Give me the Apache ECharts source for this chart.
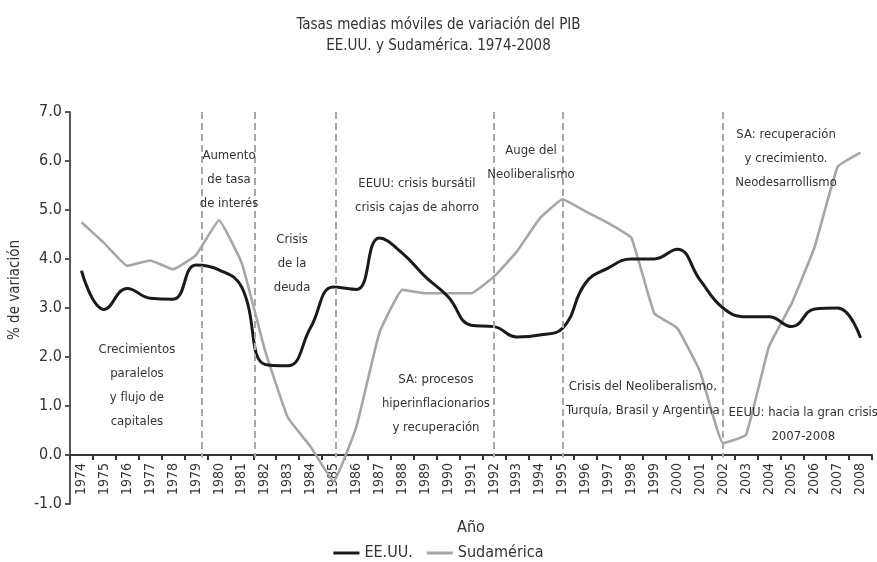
<!DOCTYPE html>
<html lang="es">
<head>
    <meta charset="UTF-8"/>
    <script src="https://cdn.jsdelivr.net/npm/echarts@6/dist/echarts.min.js"></script>
    <title>PIB EE.UU. y Sudamérica</title>
    <style>
        html, body { margin: 0; padding: 0; background: #fff; }
        #chart { width: 877px; height: 562px; }
    </style>
</head>
<body>
<div id="chart"></div>
<script type="text/javascript">
    // años (categorías)
    var years = [];
    for (var y = 1974; y <= 2008; y++) { years.push(String(y)); }

    // tasas medias móviles (% de variación)
    var eeuu = [3.76, 2.97, 3.40, 3.20, 3.18, 3.88, 3.78, 3.42, 1.85, 1.82, 2.60, 3.43,
                3.38, 4.43, 4.12, 3.64, 3.23, 2.65, 2.62, 2.41, 2.45, 2.59, 3.51, 3.82,
                4.00, 4.00, 4.20, 3.57, 3.00, 2.82, 2.82, 2.62, 2.98, 3.00, 2.39];
    var sudamerica = [4.75, 4.32, 3.86, 3.97, 3.79, 4.08, 4.79, 3.91, 2.15, 0.77, 0.17, -0.54,
                      0.58, 2.49, 3.37, 3.30, 3.30, 3.30, 3.64, 4.15, 4.83, 5.22, 4.97, 4.73,
                      4.43, 2.89, 2.59, 1.70, 0.24, 0.41, 2.21, 3.10, 4.25, 5.88, 6.17];

    // líneas de corte (posición en unidades de categoría, 0 = borde izquierdo)
    var cortes = [5.75, 8.05, 11.6, 18.5, 21.5, 28.5];

    // anotaciones: [texto, posición x (categorías), valor y]
    var notas = [
        ['Crecimientos\nparalelos\ny flujo de\ncapitales', 2.92, 1.41],
        ['Aumento\nde tasa\nde interés', 6.94, 5.61],
        ['Crisis\nde la\ndeuda', 9.69, 3.90],
        ['EEUU: crisis bursátil\ncrisis cajas de ahorro', 15.14, 5.29],
        ['Auge del\nNeoliberalismo', 20.12, 5.96],
        ['SA: recuperación\ny crecimiento.\nNeodesarrollismo', 31.25, 6.04],
        ['SA: procesos\nhiperinflacionarios\ny recuperación', 15.97, 1.04],
        ['Crisis del Neoliberalismo,\nTurquía, Brasil y Argentina', 25.0, 1.16],
        ['EEUU: hacia la gran crisis\n2007-2008', 32.0, 0.61]
    ];

    var fuente = '"DejaVu Sans Condensed", "DejaVu Sans", sans-serif';
    var myChart = echarts.init(document.getElementById('chart'));

    var lineasCorte = cortes.map(function (u) {
        return [{coord: [u, 7]}, {coord: [u, -0.05]}];
    });
    var puntosNotas = notas.map(function (n) {
        return {coord: [n[1], n[2]], value: n[0]};
    });

    var option = {
        backgroundColor: '#fff',
        textStyle: { fontFamily: fuente },
        title: {
            text: 'Tasas medias móviles de variación del PIB\nEE.UU. y Sudamérica. 1974-2008',
            left: 'center',
            top: 10,
            textStyle: { fontFamily: fuente, fontSize: 15, fontWeight: 'normal', color: '#333', lineHeight: 21 }
        },
        legend: {
            bottom: 1,
            left: 'center',
            padding: 0,
            icon: 'rect',
            itemWidth: 26,
            itemHeight: 3,
            itemGap: 14,
            itemTextGap: 2,
            textStyle: { fontFamily: fuente, fontSize: 16, color: '#333' },
            data: ['EE.UU.', 'Sudamérica']
        },
        grid: { left: 70, right: 5, top: 112, bottom: 58, outerBoundsMode: 'none', containLabel: false },
        xAxis: [{
            type: 'category',
            data: years,
            boundaryGap: true,
            name: 'Año',
            nameLocation: 'middle',
            nameGap: 16,
            nameMoveOverlap: false,
            nameTextStyle: { fontFamily: fuente, fontSize: 16, color: '#333' },
            axisLine: { onZero: true, lineStyle: { color: '#333', width: 2 } },
            axisTick: { show: true, inside: false, length: 5, lineStyle: { color: '#333', width: 2 } },
            axisLabel: { rotate: 90, fontSize: 14, color: '#333', margin: -41, interval: 0 },
            splitLine: { show: false }
        }, {
            type: 'value',
            min: 0,
            max: 35,
            show: false
        }],
        yAxis: {
            type: 'value',
            min: -1,
            max: 7,
            interval: 1,
            name: '% de variación',
            nameLocation: 'middle',
            nameGap: 38,
            nameTextStyle: { fontFamily: fuente, fontSize: 15, color: '#333', padding: [0, 0, 0, 36] },
            axisLine: { show: true, lineStyle: { color: '#555', width: 2 } },
            axisTick: { show: true, length: 5, lineStyle: { color: '#555', width: 2 } },
            axisLabel: { fontSize: 16, color: '#333', margin: 8, formatter: function (v) { return v.toFixed(1); } },
            splitLine: { show: false }
        },
        series: [
            {
                name: 'EE.UU.',
                type: 'line',
                data: eeuu,
                smooth: 0.45,
                symbol: 'none',
                z: 4,
                itemStyle: { color: '#1a1a1a' },
                lineStyle: { color: '#1a1a1a', width: 3 }
            },
            {
                name: 'Sudamérica',
                type: 'line',
                data: sudamerica,
                smooth: 0.1,
                symbol: 'none',
                z: 3,
                itemStyle: { color: '#a6a6a6' },
                lineStyle: { color: '#a6a6a6', width: 2.6 }
            },
            {
                name: 'cortes',
                type: 'line',
                xAxisIndex: 1,
                data: [],
                silent: true,
                markLine: {
                    silent: true,
                    symbol: 'none',
                    label: { show: false },
                    lineStyle: { type: [7, 4], color: '#a8a8a8', width: 2 },
                    data: lineasCorte
                },
                markPoint: {
                    silent: true,
                    symbol: 'circle',
                    symbolSize: 0,
                    label: {
                        show: true,
                        position: 'inside',
                        formatter: function (p) { return p.value; },
                        fontFamily: fuente,
                        fontSize: 13,
                        lineHeight: 24,
                        color: '#333',
                        align: 'center',
                        verticalAlign: 'middle'
                    },
                    data: puntosNotas
                }
            }
        ]
    };
    myChart.setOption(option);
</script>
</body>
</html>
